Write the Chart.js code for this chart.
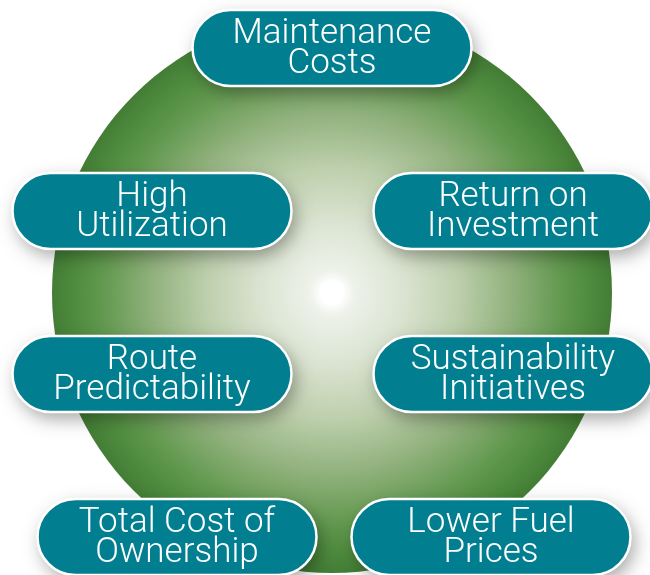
<!DOCTYPE html>
<html>
<head>
<meta charset="utf-8">
<script src="https://cdn.jsdelivr.net/npm/chart.js@4"></script>
<style>
  html, body { margin: 0; padding: 0; background: #fff; }
  #wrap { width: 650px; height: 575px; position: relative; }
</style>
</head>
<body>
<div id="wrap"><canvas id="chart"></canvas></div>
<script>
// topics shown on the pills, one entry per pill (lines split by '\n')
const topics = [
  'Maintenance\nCosts',
  'High\nUtilization',
  'Return on\nInvestment',
  'Route\nPredictability',
  'Sustainability\nInitiatives',
  'Total Cost of\nOwnership',
  'Lower Fuel\nPrices',
];

// layout (canvas units): where each pill sits, and the backdrop disc
const pillX = [332, 152, 513, 152, 513, 177, 491];
const pillY = [48, 211, 211, 374, 374, 537, 537];
const disc = { x: 332, y: 293, r: 280 };

const PILL_W = 279;
const PILL_H = 76;
const TEAL = '#017f90';

function discRadius(chart) {
  const xs = chart.scales.x;
  if (!xs || !chart.chartArea) return 0;
  const r = xs.getPixelForValue(disc.r) - xs.getPixelForValue(0);
  return Number.isFinite(r) ? r : 0;
}

function discGradient(ctx) {
  const chart = ctx.chart;
  const r = discRadius(chart);
  if (!r) return '#90b17c';
  const cx = chart.scales.x.getPixelForValue(disc.x);
  const cy = chart.scales.y.getPixelForValue(disc.y);
  const g = chart.ctx.createRadialGradient(cx, cy, 0, cx, cy, r);
  g.addColorStop(0, '#ffffff');
  g.addColorStop(0.04, '#ffffff');
  g.addColorStop(0.08, '#eef2ea');
  g.addColorStop(0.25, '#dbe4d2');
  g.addColorStop(0.45, '#bdcfac');
  g.addColorStop(0.65, '#8fb07b');
  g.addColorStop(0.82, '#62994f');
  g.addColorStop(0.93, '#4d8a3d');
  g.addColorStop(1, '#437d35');
  return g;
}

const pillPlugin = {
  id: 'pills',
  afterDatasetsDraw(chart) {
    const meta = chart.getDatasetMeta(1);
    const c = chart.ctx;
    const xs = chart.scales.x;
    const w = xs.getPixelForValue(PILL_W) - xs.getPixelForValue(0);
    const h = PILL_H;
    meta.data.forEach((pt, i) => {
      const left = pt.x - w / 2;
      const top = pt.y - h / 2;
      c.save();
      c.beginPath();
      c.roundRect(left, top, w, h, h / 2);
      c.shadowColor = 'rgba(0,0,0,0.35)';
      c.shadowBlur = 18;
      c.shadowOffsetX = 4;
      c.shadowOffsetY = 7;
      c.fillStyle = TEAL;
      c.fill();
      c.shadowColor = 'transparent';
      c.lineWidth = 2.5;
      c.strokeStyle = '#ffffff';
      c.stroke();

      c.fillStyle = '#ffffff';
      c.font = '300 35px Roboto, "Noto Sans", sans-serif';
      c.textAlign = 'center';
      c.textBaseline = 'middle';
      const lines = topics[i].split('\n');
      lines.forEach((ln, k) => {
        c.fillText(ln, pt.x, pt.y + (k - (lines.length - 1) / 2) * 30 + 1);
      });
      c.restore();
    });
  },
};

new Chart(document.getElementById('chart'), {
  type: 'scatter',
  data: {
    datasets: [
      {
        label: 'disc',
        data: [{ x: disc.x, y: disc.y }],
        pointRadius: (ctx) => discRadius(ctx.chart),
        pointHoverRadius: (ctx) => discRadius(ctx.chart),
        backgroundColor: discGradient,
        borderWidth: 0,
        clip: false,
      },
      {
        label: 'topics',
        data: topics.map((t, i) => ({ x: pillX[i], y: pillY[i] })),
        pointRadius: 0,
        clip: false,
      },
    ],
  },
  options: {
    responsive: true,
    maintainAspectRatio: false,
    animation: false,
    events: [],
    layout: { padding: 0 },
    plugins: { legend: { display: false }, tooltip: { enabled: false } },
    scales: {
      x: { type: 'linear', min: 0, max: 650, display: false },
      y: { type: 'linear', min: 0, max: 575, reverse: true, display: false },
    },
  },
  plugins: [pillPlugin],
});
</script>
</body>
</html>
